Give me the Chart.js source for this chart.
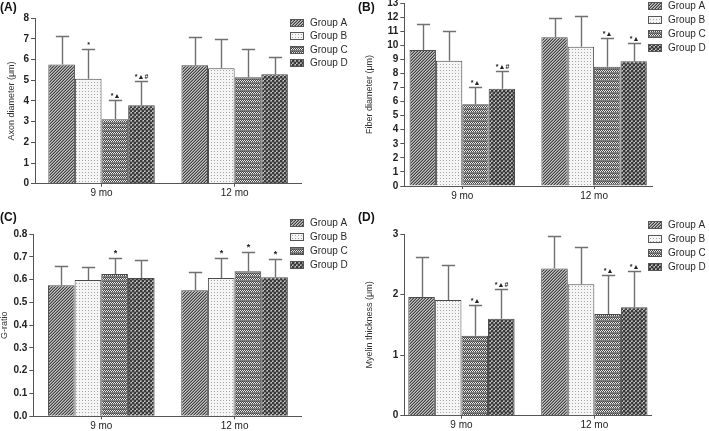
<!DOCTYPE html>
<html>
<head>
<meta charset="utf-8">
<script src="https://cdn.jsdelivr.net/npm/chart.js@4.4.0/dist/chart.umd.min.js"></script>
<style>
  body { margin: 0; background: #fff; }
  #wrap { position: relative; width: 709px; height: 431px; overflow: hidden; }
  canvas { position: absolute; }
  .tag { position: absolute; font: bold 12px "Liberation Sans", Arial, sans-serif; color: #111; line-height: 12px; }
</style>
</head>
<body>
<div id="wrap">
  <canvas id="pa" width="355" height="215" style="left:0;top:0"></canvas>
  <canvas id="pb" width="354" height="221" style="left:355px;top:-6px"></canvas>
  <canvas id="pc" width="355" height="221" style="left:0;top:210px"></canvas>
  <canvas id="pd" width="354" height="221" style="left:355px;top:210px"></canvas>
  <div class="tag" style="left:0;top:1px">(A)</div>
  <div class="tag" style="left:358px;top:1px">(B)</div>
  <div class="tag" style="left:0;top:211px">(C)</div>
  <div class="tag" style="left:358px;top:211px">(D)</div>
</div>
<script>
// rows = Group A..D, columns = 9 mo, 12 mo
const categories = ['9 mo', '12 mo'];
const groups = ['Group A', 'Group B', 'Group C', 'Group D'];

const axonMean = [[5.77, 5.73], [5.08, 5.58], [3.12, 5.15], [3.80, 5.29]];
const axonSd = [[1.37, 1.35], [1.44, 1.42], [0.92, 1.35], [1.16, 0.82]];
const axonSig = [['', ''], ['*', ''], ['*▲', ''], ['*▲#', '']];
const axonTicks = [0, 1, 2, 3, 4, 5, 6, 7, 8];

const fiberMean = [[9.66, 10.57], [8.90, 9.90], [5.80, 8.48], [6.91, 8.86]];
const fiberSd = [[1.85, 1.37], [2.10, 2.16], [1.26, 2.04], [1.27, 1.28]];
const fiberSig = [['', ''], ['', ''], ['*▲', '*▲'], ['*▲#', '*▲']];
const fiberTicks = [0, 1, 2, 3, 4, 5, 6, 7, 8, 9, 10, 11, 12, 13];

const gratioMean = [[0.575, 0.553], [0.598, 0.607], [0.624, 0.636], [0.607, 0.610]];
const gratioSd = [[0.084, 0.079], [0.056, 0.089], [0.072, 0.085], [0.077, 0.079]];
const gratioSig = [['', ''], ['', '*'], ['*', '*'], ['', '*']];
const gratioTicks = [0, 0.1, 0.2, 0.3, 0.4, 0.5, 0.6, 0.7, 0.8];

const myelinMean = [[1.96, 2.43], [1.91, 2.17], [1.32, 1.68], [1.60, 1.79]];
const myelinSd = [[0.66, 0.53], [0.57, 0.61], [0.51, 0.65], [0.50, 0.60]];
const myelinSig = [['', ''], ['', ''], ['*▲', '*▲'], ['*▲#', '*▲']];
const myelinTicks = [0, 1, 2, 3];

const FONT = '"Liberation Sans", Arial, sans-serif';
Chart.defaults.font.family = FONT;

// small pixel tiles for the bar fills (hatch, dots, zigzag, checker)
const tileSpecs = [
  { rows: ['lmd', 'mdl', 'dlm'], colors: { d: '#404040', m: '#8a8a8a', l: '#c4c4c4' } },
  { rows: ['lll', 'lgl', 'lll'], colors: { l: '#f5f5f5', g: '#a5a5a5' } },
  { rows: ['wdwd', 'dwdw', 'gggg', 'dgdg'], colors: { w: '#ececec', d: '#474747', g: '#808080' } },
  { rows: ['ddml', 'ddmm', 'mmdd', 'lmdd'], colors: { d: '#393939', m: '#858585', l: '#c6c6c6' } }
];
const tiles = tileSpecs.map(s => {
  const c = document.createElement('canvas');
  c.width = s.rows[0].length; c.height = s.rows.length;
  const t = c.getContext('2d');
  s.rows.forEach((r, y) => [...r].forEach((ch, x) => { t.fillStyle = s.colors[ch]; t.fillRect(x, y, 1, 1); }));
  return c;
});

const errorBars = {
  id: 'errorBars',
  afterDatasetsDraw(chart, args, o) {
    const ctx = chart.ctx, y = chart.scales.y;
    ctx.save();
    chart.data.datasets.forEach((ds, i) => {
      chart.getDatasetMeta(i).data.forEach((bar, j) => {
        const top = Math.round(y.getPixelForValue(ds.data[j].y + ds.sd[j])) + 0.5;
        const x = Math.round(bar.x) + 0.5;
        const cap = bar.width / 4;
        ctx.strokeStyle = '#707070';
        ctx.lineWidth = 1.4;
        ctx.beginPath();
        ctx.moveTo(x, bar.y); ctx.lineTo(x, top);
        ctx.moveTo(x - cap, top); ctx.lineTo(x + cap, top);
        ctx.stroke();
        if (ds.sig[j]) {
          ctx.fillStyle = '#222';
          ctx.font = 'bold ' + o.sigSize + 'px ' + FONT;
          ctx.textAlign = 'center';
          ctx.textBaseline = 'alphabetic';
          ctx.fillText(ds.sig[j], x, top - 3);
        }
      });
    });
    ctx.restore();
  }
};

const groupLegend = {
  id: 'groupLegend',
  afterDraw(chart, args, o) {
    const ctx = chart.ctx;
    ctx.save();
    ctx.font = '10px ' + FONT;
    ctx.textBaseline = 'middle';
    chart.data.datasets.forEach((ds, i) => {
      const cy = Math.round(o.y + i * o.gap);
      ctx.fillStyle = ds.backgroundColor;
      ctx.fillRect(o.x, cy - 4, 14, 8);
      ctx.strokeStyle = '#555';
      ctx.lineWidth = 1;
      ctx.strokeRect(o.x + 0.5, cy - 3.5, 13, 7);
      ctx.fillStyle = '#2a2a2a';
      ctx.fillText(ds.label, o.x + 20, cy);
    });
    ctx.restore();
  }
};

function drawPanel(id, p) {
  const canvas = document.getElementById(id);
  const ctx = canvas.getContext('2d');
  const fills = tiles.map(t => ctx.createPattern(t, 'repeat'));
  const W = canvas.width, H = canvas.height;
  new Chart(ctx, {
    type: 'bar',
    plugins: [errorBars, groupLegend],
    data: {
      datasets: groups.map((g, i) => ({
        label: g,
        data: categories.map((c, j) => ({ x: j, y: p.mean[i][j] })),
        sd: p.sd[i],
        sig: p.sig[i],
        backgroundColor: fills[i],
        borderColor: '#4a4a4a',
        borderWidth: 1,
        barPercentage: 1,
        categoryPercentage: 0.8
      }))
    },
    options: {
      responsive: false,
      animation: false,
      devicePixelRatio: 1,
      layout: { padding: { left: 0, top: p.area.top, right: W - p.area.right, bottom: 0 } },
      plugins: {
        legend: { display: false },
        tooltip: { enabled: false },
        groupLegend: p.legend,
        errorBars: { sigSize: p.sigSize }
      },
      scales: {
        x: {
          type: 'linear',
          min: p.xMin,
          max: p.xMax,
          offset: false,
          afterBuildTicks: s => { s.ticks = categories.map((c, j) => ({ value: j })); },
          afterFit: s => { s.height = H - p.area.bottom; },
          ticks: { callback: (v, j) => categories[j], color: '#222', font: { size: 10 }, padding: 1, maxRotation: 0, autoSkip: false },
          grid: { drawOnChartArea: false, offset: false, tickLength: 3, color: '#555' },
          border: { color: '#555', width: 1 }
        },
        y: {
          min: p.ticks[0],
          max: p.ticks[p.ticks.length - 1],
          afterBuildTicks: s => { s.ticks = p.ticks.map(v => ({ value: v })); },
          afterFit: s => { s.width = p.area.left; },
          ticks: { callback: p.fmt, color: '#222', font: { size: 10, weight: 'bold' }, padding: 2, autoSkip: false },
          grid: { drawOnChartArea: false, tickLength: 4, color: '#555' },
          border: { color: '#555', width: 1 },
          title: { display: true, text: p.title, color: '#333', font: { size: 9, lineHeight: 1 }, padding: { top: p.titlePad, bottom: 0 } }
        }
      }
    }
  });
}

const intFmt = v => String(v);

drawPanel('pa', {
  mean: axonMean, sd: axonSd, sig: axonSig, ticks: axonTicks, fmt: intFmt,
  title: 'Axon diameter (μm)', titlePad: 7.5, sigSize: 7,
  area: { left: 35, top: 18.3, bottom: 183.7, right: 301.2 }, xMin: -0.5, xMax: 1.5,
  legend: { x: 290, y: 23, gap: 13.3 }
});
drawPanel('pb', {
  mean: fiberMean, sd: fiberSd, sig: fiberSig, ticks: fiberTicks, fmt: intFmt,
  title: 'Fiber diameter (μm)', titlePad: 10.5, sigSize: 7,
  area: { left: 49.3, top: 9, bottom: 192, right: 297.1 }, xMin: -0.44, xMax: 1.44,
  legend: { x: 293, y: 11.7, gap: 14.1 }
});
drawPanel('pc', {
  mean: gratioMean, sd: gratioSd, sig: gratioSig, ticks: gratioTicks, fmt: v => v.toFixed(1),
  title: 'G-ratio', titlePad: 0, sigSize: 9,
  area: { left: 33.3, top: 24, bottom: 206.3, right: 301.2 }, xMin: -0.51, xMax: 1.5,
  legend: { x: 290, y: 13.3, gap: 14 }
});
drawPanel('pd', {
  mean: myelinMean, sd: myelinSd, sig: myelinSig, ticks: myelinTicks, fmt: intFmt,
  title: 'Myelin thickness (μm)', titlePad: 10.5, sigSize: 7,
  area: { left: 49.3, top: 24, bottom: 205.7, right: 296.5 }, xMin: -0.43, xMax: 1.43,
  legend: { x: 293, y: 15, gap: 14 }
});
</script>
</body>
</html>
